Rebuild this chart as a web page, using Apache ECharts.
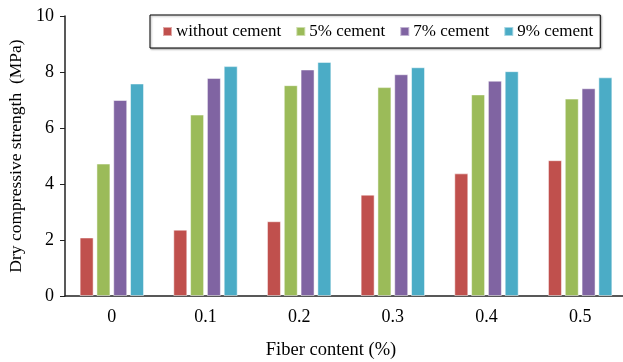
<!DOCTYPE html>
<html>
<head>
<meta charset="utf-8">
<script src="https://cdn.jsdelivr.net/npm/echarts@6/dist/echarts.min.js"></script>
<style>
  html, body { margin: 0; padding: 0; background: #fff; }
  #main { width: 623px; height: 362px; }
</style>
</head>
<body>
<div id="main"></div>
<script>
var fiberContent = ['0', '0.1', '0.2', '0.3', '0.4', '0.5'];
var withoutCement = [2.09, 2.37, 2.67, 3.62, 4.38, 4.85];
var cement5 = [4.73, 6.48, 7.53, 7.46, 7.20, 7.05];
var cement7 = [7.00, 7.79, 8.09, 7.92, 7.69, 7.42];
var cement9 = [7.59, 8.21, 8.36, 8.17, 8.03, 7.81];
var yTicks = [0, 2, 4, 6, 8, 10];

var font = "'Liberation Serif', 'Times New Roman', serif";

var chart = echarts.init(document.getElementById('main'));

function bar(name, data, color) {
  return {
    name: name,
    type: 'bar',
    data: data,
    barWidth: 14,
    barGap: '20%',
    itemStyle: {
      color: color,
      borderColor: 'rgba(255,255,255,0.5)',
      borderWidth: 1
    }
  };
}

var option = {
  animation: false,
  textStyle: { fontFamily: font, color: '#000' },
  grid: {
    left: 65,
    top: 16,
    width: 562,
    height: 280,
    outerBoundsMode: 'none',
    containLabel: false
  },
  legend: {
    top: 15,
    left: 150,
    padding: [8, 7, 8, 12],
    itemWidth: 9,
    itemHeight: 9,
    itemGap: 14,
    icon: 'rect',
    borderColor: '#000',
    borderWidth: 1,
    shadowColor: 'rgba(0,0,0,0.35)',
    shadowOffsetX: 1,
    shadowOffsetY: 1,
    shadowBlur: 2,
    backgroundColor: '#fff',
    textStyle: { fontFamily: font, fontSize: 17, color: '#000', padding: [0, 0, 0, -1] }
  },
  xAxis: {
    type: 'category',
    data: fiberContent,
    name: 'Fiber content (%)',
    nameLocation: 'middle',
    nameGap: 45,
    nameTextStyle: { fontFamily: font, fontSize: 18.5, color: '#000', padding: [0, 30, 0, 0] },
    axisLine: { lineStyle: { color: '#222', width: 1.5 } },
    axisTick: { length: 5, lineStyle: { color: '#222' } },
    axisLabel: { fontFamily: font, fontSize: 18, color: '#000', margin: 12 }
  },
  yAxis: {
    type: 'value',
    min: 0,
    max: 10,
    interval: 2,
    name: 'Dry compressive strength  (MPa)',
    nameLocation: 'middle',
    nameGap: 36,
    nameTextStyle: { fontFamily: font, fontSize: 17.5, color: '#000' },
    axisLine: { show: true, lineStyle: { color: '#222', width: 1.5 } },
    axisTick: { show: true, length: 5, lineStyle: { color: '#222' } },
    splitLine: { show: false },
    axisLabel: {
      fontFamily: font, fontSize: 18, color: '#000', margin: 11,
      formatter: function (v) { return yTicks.indexOf(v) >= 0 ? String(v) : ''; }
    }
  },
  series: [
    bar('without cement', withoutCement, '#C0504D'),
    bar('5% cement', cement5, '#9BBB59'),
    bar('7% cement', cement7, '#8064A2'),
    bar('9% cement', cement9, '#4BACC6')
  ]
};

chart.setOption(option);
</script>
</body>
</html>
